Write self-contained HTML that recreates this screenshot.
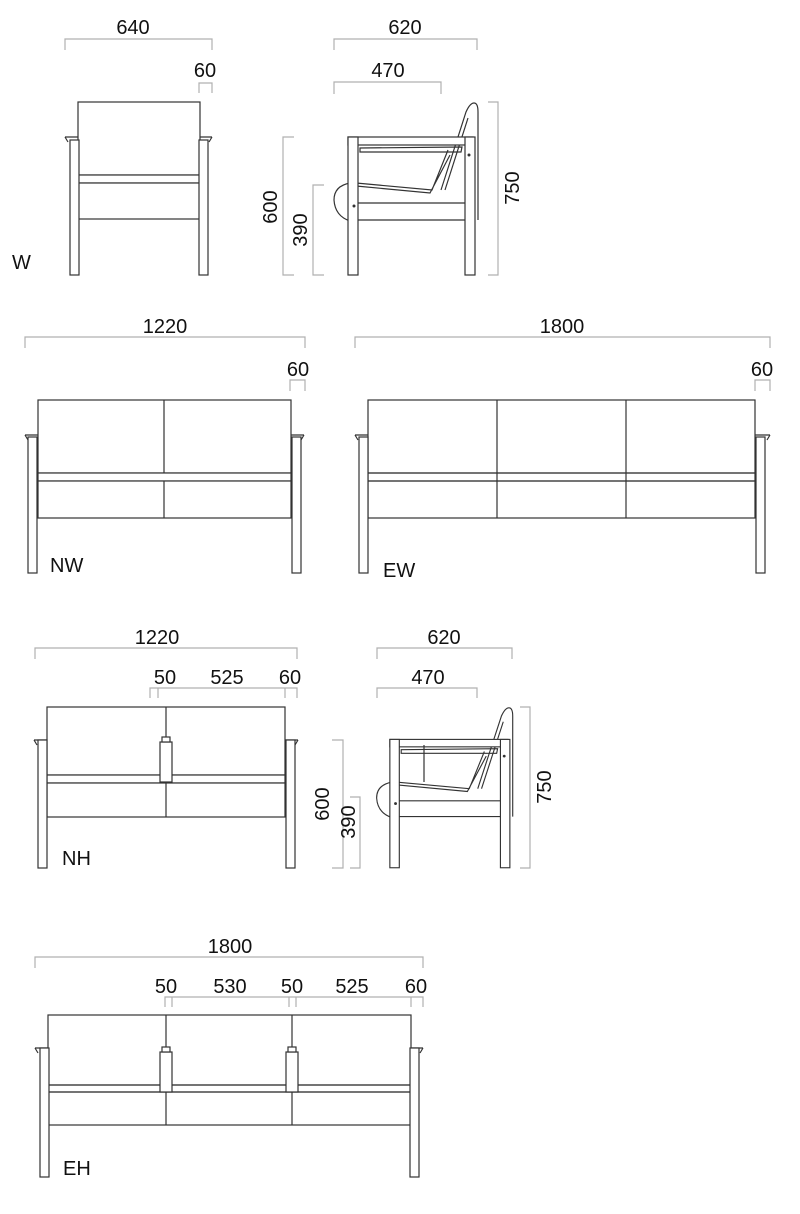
<!DOCTYPE html>
<html><head><meta charset="utf-8"><style>
html,body{margin:0;padding:0;background:#fff}
svg{display:block}
text{font-family:"Liberation Sans",Arial,sans-serif;font-size:20px;fill:#111}
.d{stroke:#b0b0b0;stroke-width:1.2;fill:none}
.s{stroke:#333;stroke-width:1.2;fill:#fff}
.n{stroke:#333;stroke-width:1.2;fill:none}
</style></head><body>
<svg width="800" height="1214" viewBox="0 0 800 1214" xmlns="http://www.w3.org/2000/svg">
<defs>
<g id="side">
  <path class="n" d="M441,190 L466,112 Q470,103 474,103 Q478,103 478,112 L478,220"/>
  <path class="n" d="M445,190 L468,118"/>
  <rect class="s" x="348" y="137" width="125" height="8"/>
  <path class="n" d="M360,148 L462,147 L461,152 L360,152 Z"/>
  <path class="n" d="M356,183 L432,190 L448,150 M356,186 L430,193 L450,155"/>
  <path class="n" d="M350,183 Q334,186 334,200 Q335,216 350,221"/>
  <line class="n" x1="358" y1="203" x2="465" y2="203"/>
  <line class="n" x1="358" y1="220" x2="465" y2="220"/>
  <rect class="s" x="348" y="137" width="10" height="138"/>
  <rect class="s" x="465" y="137" width="10" height="138"/>
  <circle cx="354" cy="206" r="1.5" fill="#333"/>
  <circle cx="469" cy="155" r="1.5" fill="#333"/>
</g>
</defs>

<!-- W front -->
<path class="d" d="M65,50V39H212V50M199,93V83H212V93"/>
<text x="133" y="34" text-anchor="middle">640</text>
<text x="205" y="77" text-anchor="middle">60</text>
<path class="n" d="M65,137H78M200,137H212M65,137l3,5M212,137l-3,5"/>
<rect class="s" x="78" y="102" width="122" height="73"/>
<rect class="s" x="78" y="175" width="122" height="8"/>
<rect class="s" x="78" y="183" width="122" height="36"/>
<rect class="s" x="70" y="140" width="9" height="135"/>
<rect class="s" x="199" y="140" width="9" height="135"/>
<text x="12" y="269" font-size="22">W</text>

<!-- W side -->
<path class="d" d="M334,50V39H477V50M334,94V82H441V94M488,102H498V275H488M294,137H283V275H294M324,185H313V275H324"/>
<text x="405" y="34" text-anchor="middle">620</text>
<text x="388" y="77" text-anchor="middle">470</text>
<text transform="translate(519,188) rotate(-90)" text-anchor="middle">750</text>
<text transform="translate(277,207) rotate(-90)" text-anchor="middle">600</text>
<text transform="translate(307,230) rotate(-90)" text-anchor="middle">390</text>
<use href="#side"/>

<!-- NW -->
<path class="d" d="M25,348V337H305V348M290,391V380H305V391"/>
<text x="165" y="333" text-anchor="middle">1220</text>
<text x="298" y="376" text-anchor="middle">60</text>
<path class="n" d="M25,435H38M291,435H304M25,435l3,5M304,435l-3,5"/>
<rect class="s" x="38" y="400" width="253" height="73"/>
<line class="n" x1="164" y1="400" x2="164" y2="473"/>
<rect class="s" x="38" y="473" width="253" height="8"/>
<rect class="s" x="38" y="481" width="253" height="37"/>
<line class="n" x1="164" y1="481" x2="164" y2="518"/>
<rect class="s" x="28" y="437" width="9" height="136"/>
<rect class="s" x="292" y="437" width="9" height="136"/>
<text x="50" y="572" font-size="22">NW</text>

<!-- EW -->
<path class="d" d="M355,348V337H770V348M755,391V380H770V391"/>
<text x="562" y="333" text-anchor="middle">1800</text>
<text x="762" y="376" text-anchor="middle">60</text>
<path class="n" d="M355,435H368M755,435H770M355,435l3,5M770,435l-3,5"/>
<rect class="s" x="368" y="400" width="387" height="73"/>
<line class="n" x1="497" y1="400" x2="497" y2="518"/>
<line class="n" x1="626" y1="400" x2="626" y2="518"/>
<rect class="n" x="368" y="473" width="387" height="8"/>
<rect class="n" x="368" y="481" width="387" height="37"/>
<rect class="s" x="359" y="437" width="9" height="136"/>
<rect class="s" x="756" y="437" width="9" height="136"/>
<text x="383" y="577" font-size="22">EW</text>

<!-- NH -->
<path class="d" d="M35,659V648H297V659M150,698V688H158M158,698V688H285V698M285,688H297V698"/>
<text x="157" y="644" text-anchor="middle">1220</text>
<text x="165" y="684" text-anchor="middle">50</text>
<text x="227" y="684" text-anchor="middle">525</text>
<text x="290" y="684" text-anchor="middle">60</text>
<path class="n" d="M34,740H47M285,740H298M34,740l3,5M298,740l-3,5"/>
<rect class="s" x="47" y="707" width="238" height="68"/>
<line class="n" x1="166" y1="707" x2="166" y2="817"/>
<rect class="s" x="47" y="775" width="238" height="8"/>
<rect class="s" x="47" y="783" width="238" height="34"/>
<line class="n" x1="166" y1="783" x2="166" y2="817"/>
<rect class="s" x="160" y="742" width="12" height="40"/>
<rect class="s" x="162" y="737" width="8" height="5"/>
<rect class="s" x="38" y="740" width="9" height="128"/>
<rect class="s" x="286" y="740" width="9" height="128"/>
<text x="62" y="865" font-size="22">NH</text>

<!-- NH side -->
<path class="d" d="M377,659V648H512V659M377,698V688H477V698M520,707H530V868H520M332,740H343V868H332M350,797H360V868H350"/>
<text x="444" y="644" text-anchor="middle">620</text>
<text x="428" y="684" text-anchor="middle">470</text>
<text transform="translate(551,787) rotate(-90)" text-anchor="middle">750</text>
<text transform="translate(329,804) rotate(-90)" text-anchor="middle">600</text>
<text transform="translate(355,822) rotate(-90)" text-anchor="middle">390</text>
<g transform="matrix(0.945,0,0,0.93,61,612)"><use href="#side"/></g>
<line class="n" x1="424" y1="745" x2="424" y2="782"/>

<!-- EH -->
<path class="d" d="M35,968V957H423V968M165,1007V997H172M172,1007V997H289V1007M289,997H296V1007M296,997H411V1007M411,997H423V1007"/>
<text x="230" y="953" text-anchor="middle">1800</text>
<text x="166" y="993" text-anchor="middle">50</text>
<text x="230" y="993" text-anchor="middle">530</text>
<text x="292" y="993" text-anchor="middle">50</text>
<text x="352" y="993" text-anchor="middle">525</text>
<text x="416" y="993" text-anchor="middle">60</text>
<path class="n" d="M35,1048H48M411,1048H423M35,1048l3,5M423,1048l-3,5"/>
<rect class="s" x="48" y="1015" width="363" height="70"/>
<line class="n" x1="166" y1="1015" x2="166" y2="1125"/>
<line class="n" x1="292" y1="1015" x2="292" y2="1125"/>
<rect class="n" x="48" y="1085" width="363" height="7"/>
<rect class="n" x="48" y="1092" width="363" height="33"/>
<rect class="s" x="160" y="1052" width="12" height="40"/>
<rect class="s" x="162" y="1047" width="8" height="5"/>
<rect class="s" x="286" y="1052" width="12" height="40"/>
<rect class="s" x="288" y="1047" width="8" height="5"/>
<rect class="s" x="40" y="1048" width="9" height="129"/>
<rect class="s" x="410" y="1048" width="9" height="129"/>
<text x="63" y="1175" font-size="22">EH</text>
</svg>
</body></html>
